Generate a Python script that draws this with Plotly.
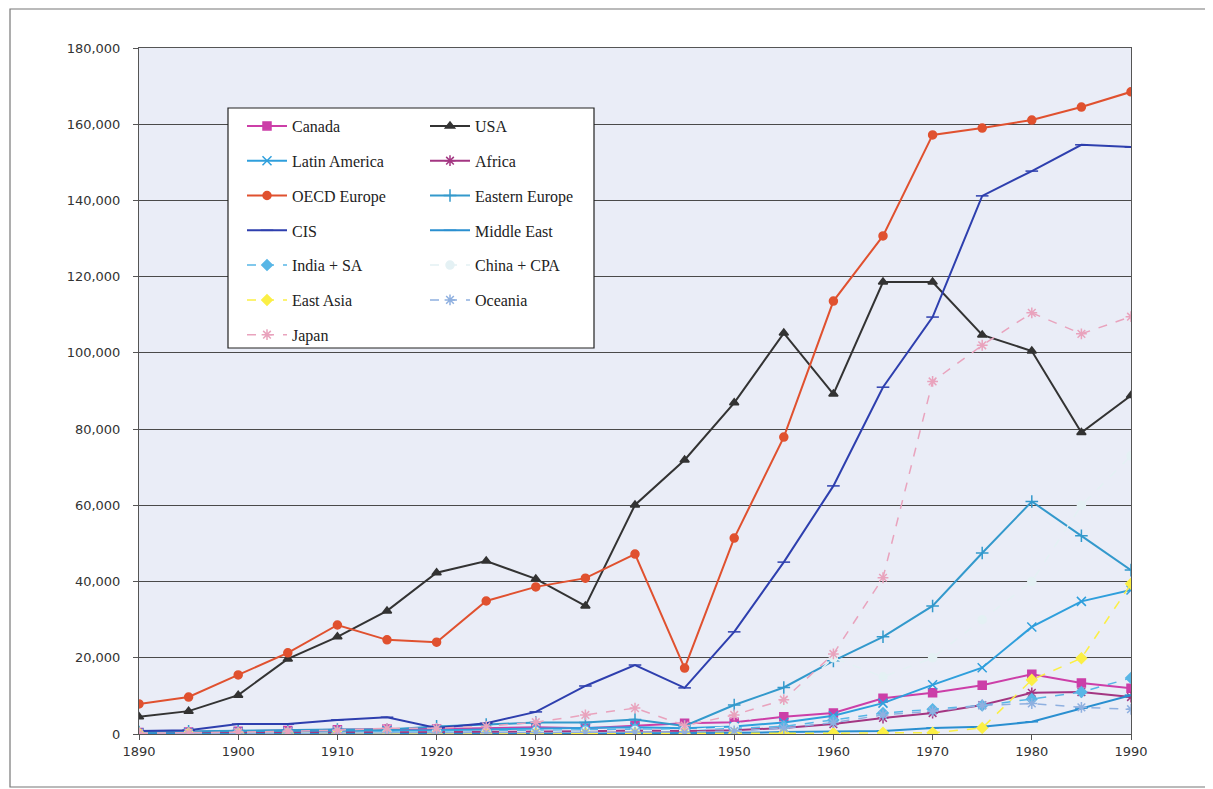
import plotly.graph_objects as go

years = list(range(1890, 1995, 5))

canada = [400, 500, 700, 900, 1100, 1300, 1300, 1500, 1800, 1500, 2200, 2800, 3100, 4500, 5500, 9400, 10800, 12800, 15700, 13400, 12000]
usa = [4500, 6000, 10200, 19700, 25500, 32300, 42300, 45400, 40700, 33600, 60100, 71900, 86900, 105200, 89200, 118600, 118600, 104700, 100500, 79100, 88800]
latin_america = [300, 400, 500, 600, 800, 900, 1000, 1200, 1400, 1500, 1800, 1500, 2000, 3000, 4800, 8100, 12900, 17400, 28100, 34800, 37800]
africa = [100, 150, 200, 250, 300, 350, 400, 500, 600, 700, 900, 800, 1000, 1600, 2600, 4200, 5500, 7600, 10800, 11000, 9700]
oecd_europe = [7900, 9700, 15500, 21300, 28600, 24700, 24100, 34900, 38600, 40900, 47200, 17300, 51400, 77900, 113600, 130700, 157200, 159000, 161100, 164500, 168500]
eastern_europe = [500, 700, 900, 1000, 1200, 1200, 2000, 2500, 3000, 3000, 3800, 2100, 7600, 12200, 19200, 25500, 33600, 47500, 61000, 52000, 43000]
cis = [800, 1000, 2600, 2600, 3700, 4400, 1600, 2800, 5800, 12600, 18100, 12100, 26800, 45100, 65100, 91000, 109400, 141200, 147700, 154600, 154000]
middle_east = [0, 0, 0, 0, 0, 0, 0, 0, 100, 100, 200, 200, 300, 500, 600, 800, 1600, 1900, 3200, 6800, 10200]
india_sa = [200, 250, 300, 400, 500, 600, 700, 800, 1000, 1100, 1300, 1200, 1500, 2000, 3700, 5500, 6500, 7500, 9200, 11000, 14700]
china_cpa = [100, 100, 200, 200, 300, 300, 400, 500, 600, 700, 900, 1000, 2000, 8000, 20000, 15000, 20000, 30000, 40000, 60000, 73000]
east_asia = [100, 100, 100, 100, 100, 100, 100, 100, 200, 200, 200, 200, 200, 200, 200, 300, 300, 1600, 14200, 19900, 39400]
oceania = [100, 100, 150, 200, 250, 300, 300, 350, 400, 450, 500, 500, 800, 1500, 3000, 5000, 6000, 7500, 8000, 7000, 6500]
japan = [200, 300, 500, 700, 1000, 1500, 1500, 2000, 3100, 5000, 6800, 2200, 5000, 9000, 21000, 41000, 92500, 102000, 110500, 105000, 109500]

y_ticks = list(range(0, 180001, 20000))
x_ticks = list(range(1890, 1991, 10))

# name, data, color, marker symbol, dash, legend
series = [
    ("Canada", canada, "#cc3fa8", "square", "solid", "legend"),
    ("USA", usa, "#333333", "triangle-up", "solid", "legend2"),
    ("Latin America", latin_america, "#2f9fdc", "x-thin-open", "solid", "legend"),
    ("Africa", africa, "#a33682", "asterisk-open", "solid", "legend2"),
    ("OECD Europe", oecd_europe, "#e0512f", "circle", "solid", "legend"),
    ("Eastern Europe", eastern_europe, "#3399cc", "cross-thin-open", "solid", "legend2"),
    ("CIS", cis, "#2e3fae", "line-ew-open", "solid", "legend"),
    ("Middle East", middle_east, "#2a8fd0", "line-ew-open", "solid", "legend2"),
    ("India + SA", india_sa, "#58b6e6", "diamond", "dash", "legend"),
    ("China + CPA", china_cpa, "#e4f1f4", "circle", "dash", "legend2"),
    ("East Asia", east_asia, "#fbef45", "diamond", "dash", "legend"),
    ("Oceania", oceania, "#8fb0e0", "asterisk-open", "dash", "legend2"),
    ("Japan", japan, "#e9a3bd", "asterisk-open", "dash", "legend"),
]

fig = go.Figure()
for name, data, color, symbol, dash, leg in series:
    size = 8
    if symbol in ("x-thin-open", "cross-thin-open", "asterisk-open", "line-ew-open"):
        size = 9
    fig.add_trace(go.Scatter(
        x=years, y=data, name=name, mode="lines+markers",
        line=dict(color=color, width=2 if dash == "solid" else 1.5, dash=dash),
        marker=dict(symbol=symbol, size=size, color=color,
                    line=dict(color=color, width=1.5)),
        legend=leg, legendgroup=name,
    ))

# page body has an 8px margin: figure coordinates = screen - 8
OFF = 8
W, H = 1213 - OFF, 789 - OFF
L, T = 139 - OFF, 48 - OFF
R = W - (1131 - OFF)
B = H - (734 - OFF)
pw, ph = W - L - R, H - T - B

def px_x(px):
    return (px - OFF - L) / pw

def px_y(py):
    return (H - B - (py - OFF)) / ph

leg_font = dict(family="Liberation Serif, Times New Roman, serif", size=16, color="#222")

fig.update_layout(
    width=W, height=H,
    margin=dict(l=L, r=R, t=T, b=B, autoexpand=False),
    paper_bgcolor="white",
    plot_bgcolor="#eaedf7",
    font=dict(family="DejaVu Sans, sans-serif", size=13, color="#333"),
    showlegend=True,
    legend=dict(x=px_x(242), y=px_y(109), xanchor="left", yanchor="top",
                bgcolor="rgba(0,0,0,0)", font=leg_font, tracegroupgap=11,
                itemwidth=40, traceorder="grouped"),
    legend2=dict(x=px_x(425), y=px_y(109), xanchor="left", yanchor="top",
                 bgcolor="rgba(0,0,0,0)", font=leg_font, tracegroupgap=11,
                 itemwidth=40, traceorder="grouped"),
    xaxis=dict(range=[1890, 1990], tickvals=x_ticks, ticktext=[str(v) for v in x_ticks],
               showgrid=False, zeroline=False, showline=True, linecolor="#555",
               linewidth=1, mirror=True, ticks="outside", ticklen=5, tickcolor="#555"),
    yaxis=dict(range=[0, 180000], tickvals=y_ticks,
               ticktext=[f"{v:,}" for v in y_ticks],
               showgrid=True, gridcolor="#4a4a4a", gridwidth=1, zeroline=False,
               showline=True, linecolor="#555", linewidth=1, mirror=True,
               ticks="outside", ticklen=5, tickcolor="#555", ticklabelstandoff=10),
    shapes=[
        dict(type="rect", xref="paper", yref="paper",
             x0=px_x(228), x1=px_x(594), y0=px_y(348), y1=px_y(108),
             fillcolor="white", line=dict(color="#222", width=1.2), layer="above"),
        dict(type="rect", xref="paper", yref="paper",
             x0=px_x(10), x1=px_x(1211), y0=px_y(787), y1=px_y(9),
             fillcolor="rgba(0,0,0,0)", line=dict(color="#777", width=1.2), layer="below"),
    ],
)

fig.write_html("out.html")
